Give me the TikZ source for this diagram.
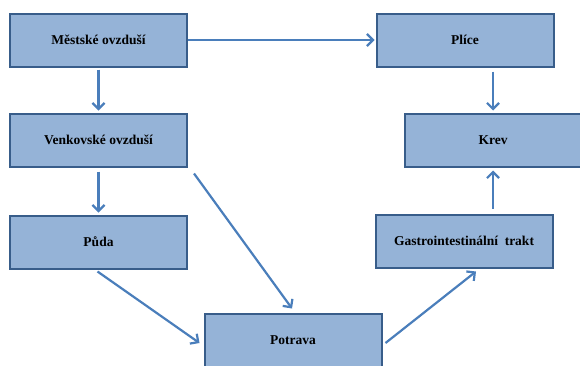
\documentclass[tikz,border=0pt]{standalone}
\usepackage{fontspec}
\setmainfont{Liberation Serif}
\usetikzlibrary{arrows.meta,calc}
\definecolor{boxfill}{RGB}{149,179,215}
\definecolor{boxline}{RGB}{56,93,138}
\definecolor{arrowc}{RGB}{74,126,187}
\begin{document}
\begin{tikzpicture}[x=1pt,y=-1pt,
  box/.style={draw=boxline,fill=boxfill,line width=2pt,minimum width=177pt,minimum height=53pt,inner sep=0pt,font=\fontsize{13.5}{15}\selectfont\bfseries},
  conn/.style={draw=arrowc,line width=2.2pt,-{Straight Barb[length=6pt,width=12pt,line width=2.2pt]}}]
\useasboundingbox (0,0) rectangle (580,365);
\node[box] (mest) at (98.5,40) {Městské ovzduší};
\node[box] (venk) at (98.5,140) {Venkovské ovzduší};
\node[box] (puda) at (98.5,242) {Půda};
\node[box] (plic) at (465,40) {Plíce};
\node[box] (krev) at (493,140) {Krev};
\node[box] (gast) at (464,241) {Gastrointestinální\hspace{0.5em}trakt};
\node[box] (potr) at (293,340) {Potrava};
\draw[conn] (mest.east) -- ($(plic.west)+(-1,0)$);
\draw[conn] ($(mest.south)+(0,2)$) -- ($(venk.north)+(0,-2)$);
\draw[conn] ($(venk.south)+(0,4)$) -- ($(puda.north)+(0,-2)$);
\draw[conn] ($(puda.south)+(-1,2)$) -- ($(potr.west)+(-4,3)$);
\draw[conn] ($(venk.south east)+(6,6)$) -- ($(potr.north)+(-1,-4)$);
\draw[conn] ($(potr.east)+(3,3)$) -- ($(gast.south)+(12,3)$);
\draw[conn] ($(gast.north)+(29,-5)$) -- ($(krev.south)+(0,3)$);
\draw[conn] ($(plic.south)+(28,4)$) -- ($(krev.north)+(0,-2)$);
\end{tikzpicture}
\end{document}
